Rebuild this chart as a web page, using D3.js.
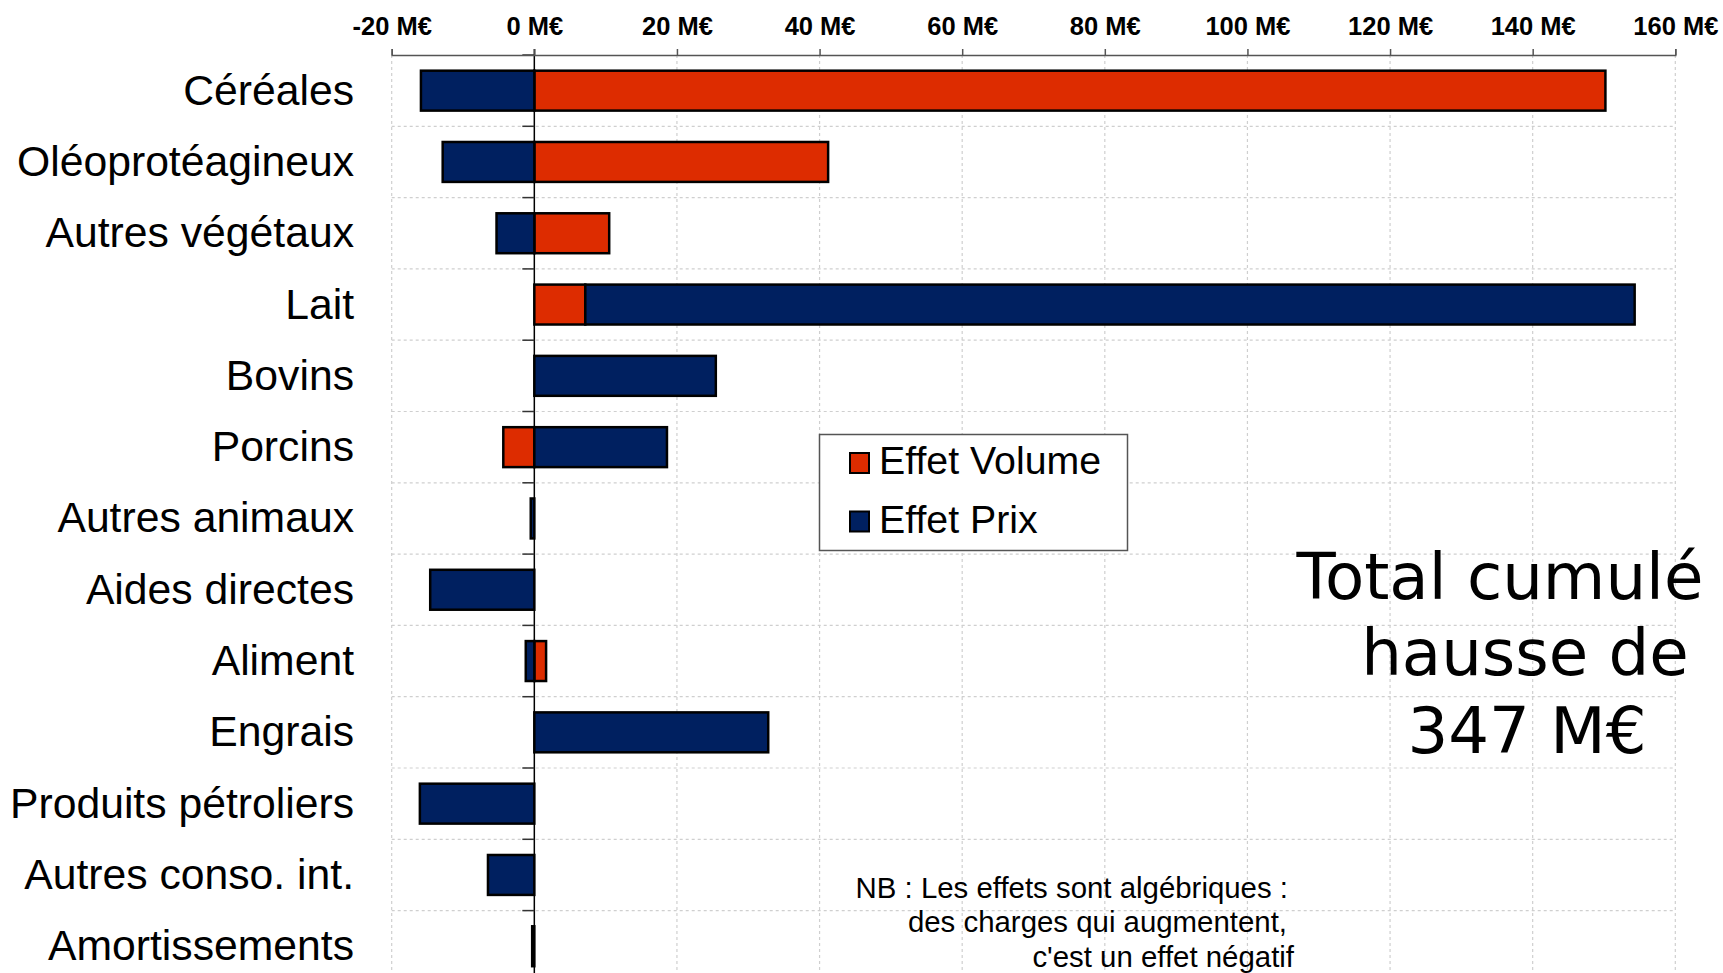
<!DOCTYPE html>
<html><head><meta charset="utf-8">
<script src="https://cdn.jsdelivr.net/npm/d3@7"></script>
<style>body{margin:0;background:#fff} svg{display:block}</style>
</head><body><svg id="c" width="1723" height="973"></svg>
<script>
// ---- data ----
const categories = ["Céréales","Oléoprotéagineux","Autres végétaux","Lait","Bovins","Porcins","Autres animaux","Aides directes","Aliment","Engrais","Produits pétroliers","Autres conso. int.","Amortissements"];
const volume = [150.2, 41.2, 10.5, 7.15, 0, -4.35, 0, 0, 1.65, 0, 0, 0, 0];
const prix   = [-15.9, -12.85, -5.3, 147.15, 25.45, 18.6, -0.5, -14.6, -1.2, 32.8, -16.05, -6.5, -0.3];
const tickValues = [-20, 0, 20, 40, 60, 80, 100, 120, 140, 160];
const seriesKeys = ["volume", "prix"];
const legendLabels = ["Effet Volume", "Effet Prix"];
const seriesColors = ["#DD2C00", "#002060"];
const totalLines = ["Total cumulé", "hausse de", "347 M€"];
const noteLines = ["NB : Les effets sont algébriques :", "des charges qui augmentent,", "c'est un effet négatif"];

// ---- layout ----
const svg = d3.select("#c");
const ARIAL = "'Liberation Sans', Arial, Helvetica, sans-serif";
const plotTop = 55, rowH = 71.3;
const x = d3.scaleLinear().domain([-20, 160]).range([391.7, 1675.3]);
const y = d3.scaleBand().domain(categories)
  .range([plotTop, plotTop + rowH * categories.length])
  .paddingInner(0.44).paddingOuter(0.22);
const color = d3.scaleOrdinal().domain(seriesKeys).range(seriesColors);

// gridlines
const grid = svg.append("g");
grid.selectAll("line.v").data(tickValues.filter(d => d !== 0)).join("line")
  .attr("x1", d => x(d)).attr("x2", d => x(d))
  .attr("y1", plotTop).attr("y2", 973)
  .attr("stroke", "#cfcfcf").attr("stroke-width", 1.2).attr("stroke-dasharray", "3,3");
grid.selectAll("line.h").data(d3.range(1, categories.length)).join("line")
  .attr("x1", x(-20)).attr("x2", x(160))
  .attr("y1", k => plotTop + k * y.step()).attr("y2", k => plotTop + k * y.step())
  .attr("stroke", "#cfcfcf").attr("stroke-width", 1.2).attr("stroke-dasharray", "3,3");

// zero line
svg.append("line")
  .attr("x1", x(0)).attr("x2", x(0)).attr("y1", plotTop - 6).attr("y2", 973)
  .attr("stroke", "#000").attr("stroke-width", 1.5);

// bars
const rows = categories.map((c, i) => ({cat: c, volume: volume[i], prix: prix[i]}));
const stacked = d3.stack().keys(seriesKeys).offset(d3.stackOffsetDiverging)(rows);
svg.append("g").selectAll("g").data(stacked).join("g")
  .attr("fill", s => color(s.key))
  .selectAll("rect").data(s => s.filter(d => d[1] !== d[0])).join("rect")
  .attr("x", d => x(Math.min(d[0], d[1])))
  .attr("width", d => Math.abs(x(d[1]) - x(d[0])))
  .attr("y", d => y(d.data.cat))
  .attr("height", y.bandwidth())
  .attr("stroke", "#000").attr("stroke-width", 2.5);

// category ticks on the zero line
svg.append("g").selectAll("line").data(d3.range(0, categories.length + 1)).join("line")
  .attr("x1", x(0) - 12).attr("x2", x(0))
  .attr("y1", k => plotTop + k * y.step()).attr("y2", k => plotTop + k * y.step())
  .attr("stroke", "#333").attr("stroke-width", 1.5);

// category labels
svg.append("g").selectAll("text").data(categories).join("text")
  .attr("x", 354)
  .attr("y", d => y(d) + y.bandwidth() / 2 + 14)
  .attr("text-anchor", "end")
  .attr("font-family", ARIAL).attr("font-size", 42.7).attr("fill", "#000")
  .text(d => d);

// top axis
const axis = svg.append("g").attr("transform", `translate(0,${plotTop})`)
  .call(d3.axisTop(x).tickValues(tickValues).tickSize(6).tickSizeOuter(6).tickPadding(14)
    .tickFormat(d => d + " M€"));
axis.select(".domain").attr("stroke", "#555").attr("stroke-width", 1.5);
axis.selectAll(".tick line").attr("stroke", "#555").attr("stroke-width", 1.5);
axis.selectAll(".tick text").attr("font-family", ARIAL).attr("font-size", 25.5)
  .attr("font-weight", "bold").attr("fill", "#000");

// legend
const lg = svg.append("g");
lg.append("rect").attr("x", 819.5).attr("y", 434.5).attr("width", 308).attr("height", 116)
  .attr("fill", "#fff").attr("stroke", "#555").attr("stroke-width", 1.5);
const items = lg.selectAll("g.item").data(seriesKeys).join("g")
  .attr("transform", (d, i) => `translate(0,${i * 58.5})`);
items.append("rect").attr("x", 850).attr("y", 453).attr("width", 19).attr("height", 20)
  .attr("fill", d => color(d)).attr("stroke", "#000").attr("stroke-width", 2);
items.append("text").attr("x", 879).attr("y", 474.3)
  .attr("font-family", ARIAL).attr("font-size", 39.3).attr("fill", "#000")
  .text((d, i) => legendLabels[i]);

// total annotation
const totalX = [1500, 1525, 1527];
const totalY = [599, 675, 752.7];
svg.append("g").selectAll("text").data(totalLines).join("text")
  .attr("x", (d, i) => totalX[i]).attr("y", (d, i) => totalY[i])
  .attr("text-anchor", "middle")
  .attr("font-family", "'DejaVu Sans', Verdana, sans-serif").attr("font-size", 64.2).attr("fill", "#000")
  .text(d => d);

// note
const noteX = [1288, 1287, 1294];
const noteY = [897.5, 932, 966.5];
svg.append("g").selectAll("text").data(noteLines).join("text")
  .attr("x", (d, i) => noteX[i]).attr("y", (d, i) => noteY[i])
  .attr("text-anchor", "end")
  .attr("font-family", ARIAL).attr("font-size", 29.4).attr("fill", "#000")
  .text(d => d);
</script>
</body></html>
